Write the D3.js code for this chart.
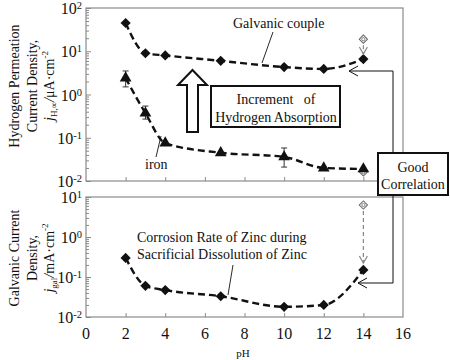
<!DOCTYPE html>
<html>
<head>
<meta charset="utf-8">
<script src="https://cdn.jsdelivr.net/npm/d3@7"></script>
<style>
  body { margin: 0; background: #fff; }
  svg { font-family: "Liberation Serif", "Times New Roman", Times, serif; }
  text { fill: #111; }
</style>
</head>
<body>
<div id="chart"></div>
<script>
// data
var pH = [2, 3, 4, 6.8, 10, 12, 14];
var couple = [45, 9, 8, 6, 4.3, 3.9, 6.6];
var iron = [2.4, 0.37, 0.075, 0.045, 0.036, 0.02, 0.019];
var ironErrLo = [1.5, 0.27, null, null, 0.021, null, null];
var ironErrHi = [3.5, 0.54, null, null, 0.058, null, null];
var zinc = [0.3, 0.06, 0.047, 0.033, 0.018, 0.02, 0.15];
// open symbols at pH 14
var coupleOpen = 19, ironOpen = 0.016, zincOpen = 6.3;
var xTicks = [0, 2, 4, 6, 8, 10, 12, 14, 16];
var topDecades = [-2, -1, 0, 1, 2];
var botDecades = [-2, -1, 0, 1];

var width = 450, height = 360;
var svg = d3.select("#chart").append("svg")
    .attr("width", width)
    .attr("height", height);

var x = d3.scaleLinear().domain([0, 16]).range([86, 403]);
var yTop = d3.scaleLog().domain([0.01, 100]).range([181, 8]);
var yBot = d3.scaleLog().domain([0.01, 10]).range([317, 197]);

var grey = "#8a8a8a";

// panel frames + axes
function panel(y, decades, showLabels) {
    var g = svg.append("g");
    g.append("rect")
        .attr("x", x(0)).attr("y", y.range()[1])
        .attr("width", x(16) - x(0)).attr("height", y.range()[0] - y.range()[1])
        .attr("fill", "none").attr("stroke", grey).attr("stroke-width", 1.2);

    // minor + major ticks, pointing in
    var minor = y.ticks().filter(function(v) { return Math.abs(Math.log10(v) % 1) > 1e-6; });
    g.append("g")
        .attr("transform", "translate(" + x(0) + ",0)")
        .call(d3.axisLeft(y).tickValues(minor).tickSize(-3).tickFormat(""))
        .call(function(a) { a.select(".domain").remove(); a.selectAll("line").attr("stroke", grey); });
    g.append("g")
        .attr("transform", "translate(" + x(0) + ",0)")
        .call(d3.axisLeft(y).tickValues(decades.map(function(d) { return Math.pow(10, d); })).tickSize(-5).tickFormat(""))
        .call(function(a) { a.select(".domain").remove(); a.selectAll("line").attr("stroke", grey); });

    // tick labels 10^n
    var lab = g.selectAll(".ylab").data(decades).join("text")
        .attr("class", "ylab")
        .attr("x", 82)
        .attr("y", function(d) { return y(Math.pow(10, d)) + 6; })
        .attr("text-anchor", "end")
        .style("font-size", "16px");
    lab.append("tspan").text("10");
    lab.append("tspan").attr("dy", -5).style("font-size", "10.5px").text(function(d) { return d; });

    // x ticks pointing up
    var xa = g.append("g")
        .attr("transform", "translate(0," + y.range()[0] + ")")
        .call(d3.axisBottom(x).tickValues(xTicks.slice(1, -1)).tickSizeInner(-4).tickSizeOuter(0).tickFormat(""));
    xa.select(".domain").remove();
    xa.selectAll("line").attr("stroke", grey);
    if (showLabels) {
        g.selectAll(".xlab").data(xTicks).join("text")
            .attr("x", function(d) { return x(d); })
            .attr("y", 339)
            .attr("text-anchor", "middle")
            .style("font-size", "16px")
            .text(function(d) { return d; });
    }
    return g;
}
panel(yTop, topDecades, false);
panel(yBot, botDecades, true);

svg.append("text").attr("x", 243).attr("y", 357).attr("text-anchor", "middle")
    .style("font-size", "11px").text("pH");

// y titles
function yTitle(cx, lines, sub, unit) {
    var t = svg.append("g").attr("transform", "translate(0," + cx + ") rotate(-90)")
        .style("font-size", "14px");
    t.append("text").attr("x", 0).attr("y", 19).attr("text-anchor", "middle").text(lines[0]);
    t.append("text").attr("x", 0).attr("y", 37).attr("text-anchor", "middle").text(lines[1]);
    var l3 = t.append("text").attr("x", 0).attr("y", 54).attr("text-anchor", "middle");
    l3.append("tspan").style("font-style", "italic").text("j");
    l3.append("tspan").attr("dy", 3).style("font-size", "9px").text(sub);
    l3.append("tspan").attr("dy", -3).style("font-style", "italic").text("/");
    l3.append("tspan").text(unit);
    l3.append("tspan").attr("dy", -6).style("font-size", "9px").text("-2");
}
yTitle(86, ["Hydrogen Permeation", "Current Density,"], "H,\u221E", "\u03BCA\u00B7cm");
yTitle(258, ["Galvanic Current", "Density,"], "gal", "mA\u00B7cm");

// dashed fitted curves
function curve(y, vals) {
    svg.append("path")
        .datum(pH.map(function(p, i) { return [p, vals[i]]; }))
        .attr("fill", "none")
        .attr("stroke", "#111")
        .attr("stroke-width", 2.4)
        .attr("stroke-dasharray", "7,4")
        .attr("d", d3.line().curve(d3.curveMonotoneX)
            .x(function(d) { return x(d[0]); })
            .y(function(d) { return y(d[1]); }));
}
curve(yTop, couple);
curve(yTop, iron);
curve(yBot, zinc);

// error bars on iron
pH.forEach(function(p, i) {
    if (ironErrLo[i] == null) return;
    var g = svg.append("g").attr("stroke", "#333").attr("stroke-width", 1);
    g.append("line").attr("x1", x(p)).attr("x2", x(p)).attr("y1", yTop(ironErrLo[i])).attr("y2", yTop(ironErrHi[i]));
    g.append("line").attr("x1", x(p) - 3).attr("x2", x(p) + 3).attr("y1", yTop(ironErrLo[i])).attr("y2", yTop(ironErrLo[i]));
    g.append("line").attr("x1", x(p) - 3).attr("x2", x(p) + 3).attr("y1", yTop(ironErrHi[i])).attr("y2", yTop(ironErrHi[i]));
});

// open symbols + grey dashed arrows at pH 14
function openSym(y, v, s) {
    var g = svg.append("g").attr("transform", "translate(" + x(14) + "," + y(v) + ")");
    g.append("path").attr("d", d3.symbol().type(d3.symbolSquare).size(s)()).attr("transform", "rotate(45)")
        .attr("fill", "#fff").attr("stroke", "#666").attr("stroke-width", 1);
    g.append("circle").attr("r", 1.6).attr("fill", "none").attr("stroke", "#666").attr("stroke-width", 0.8);
}
function greyArrow(y1, y2) {
    var g = svg.append("g").attr("stroke", "#888").attr("fill", "none").attr("stroke-width", 1.2);
    g.append("line").attr("x1", x(14)).attr("x2", x(14)).attr("y1", y1).attr("y2", y2)
        .attr("stroke-dasharray", "4,3");
    g.append("path").attr("d", "M" + (x(14) - 4) + "," + (y2 - 7) + "L" + x(14) + "," + y2 + "L" + (x(14) + 4) + "," + (y2 - 7));
}
openSym(yTop, ironOpen, 30);

var diamond = d3.symbol().type(d3.symbolSquare).size(52)();
var triangle = d3.symbol().type(d3.symbolTriangle).size(60)();

function markers(y, vals, shape, rot) {
    svg.append("g").selectAll("path").data(vals).join("path")
        .attr("d", shape)
        .attr("transform", function(d, i) { return "translate(" + x(pH[i]) + "," + y(d) + ") rotate(" + rot + ")"; })
        .attr("fill", "#111");
}
markers(yTop, couple, diamond, 45);
markers(yTop, iron, triangle, 0);
markers(yBot, zinc, diamond, 45);

openSym(yTop, coupleOpen, 34);
greyArrow(yTop(coupleOpen) + 6, yTop(couple[6]) - 5);
openSym(yBot, zincOpen, 34);
greyArrow(yBot(zincOpen) + 6, yBot(zinc[6]) - 7);

// leader lines
var leaders = svg.append("g").attr("stroke", "#111").attr("stroke-width", 0.9);
leaders.append("line").attr("x1", 273).attr("y1", 32).attr("x2", 262).attr("y2", 63);
leaders.append("line").attr("x1", 156).attr("y1", 157).attr("x2", 161).attr("y2", 136);
leaders.append("line").attr("x1", 233).attr("y1", 265).attr("x2", 228).attr("y2", 295);

// hollow up arrow
svg.append("path")
    .attr("d", "M192.5,70L207,85L198,85L198,132L187,132L187,85L178,85Z")
    .attr("fill", "#fff").attr("stroke", "#111").attr("stroke-width", 2).attr("stroke-linejoin", "miter");

// increment box
svg.append("rect").attr("x", 211).attr("y", 86).attr("width", 129).attr("height", 41)
    .attr("fill", "#fff").attr("stroke", "#111").attr("stroke-width", 2);

// good correlation box + connectors
var conn = svg.append("g").attr("stroke", "#111").attr("stroke-width", 1).attr("fill", "none");
conn.append("path").attr("d", "M393,153L393,71L349,71");
conn.append("path").attr("d", "M358,66L349,71L358,76");
conn.append("path").attr("d", "M393,195L393,283L358,283");
conn.append("path").attr("d", "M367,278L358,283L367,288");
svg.append("rect").attr("x", 378).attr("y", 153).attr("width", 70).attr("height", 42)
    .attr("fill", "#fff").attr("stroke", "#111").attr("stroke-width", 2);

// annotation texts
var ann = svg.append("g").style("font-size", "14px");
ann.append("text").attr("x", 233).attr("y", 28).text("Galvanic couple");
ann.append("text").attr("x", 145).attr("y", 169).text("iron");
ann.append("text").attr("x", 137).attr("y", 242).text("Corrosion Rate of Zinc during");
ann.append("text").attr("x", 137).attr("y", 259).text("Sacrificial Dissolution of Zinc");
ann.append("text").attr("x", 276).attr("y", 104).attr("text-anchor", "middle")
    .attr("xml:space", "preserve").text("Increment   of");
ann.append("text").attr("x", 276).attr("y", 122).attr("text-anchor", "middle").text("Hydrogen Absorption");
ann.append("text").attr("x", 413).attr("y", 172).attr("text-anchor", "middle").text("Good");
ann.append("text").attr("x", 413).attr("y", 189).attr("text-anchor", "middle").text("Correlation");
</script>
</body>
</html>
